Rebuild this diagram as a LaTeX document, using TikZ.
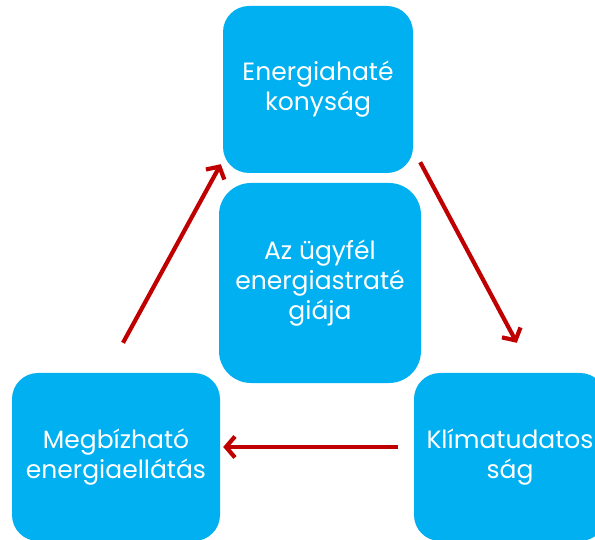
\documentclass[tikz,border=0pt]{standalone}
\usepackage{fontspec}
\setmainfont{Poppins}
\usetikzlibrary{arrows.meta}
\definecolor{boxblue}{RGB}{0,176,240}
\definecolor{arrowred}{RGB}{192,0,0}
\begin{document}
\begin{tikzpicture}[x=1pt, y=-1pt,
    box/.style={rectangle, fill=boxblue, rounded corners=26pt, align=center,
      text=white, font=\fontsize{25}{30}\selectfont},
    flow/.style={draw=arrowred, line width=4.2pt,
      -{Straight Barb[length=9pt,width=21pt,line width=4.2pt]}}]

      \useasboundingbox (0,0) rectangle (595,540);

      \node[box, minimum width=190pt, minimum height=167pt] (hatekony) at (318,89.5) {Energiahaté\\konyság};
      \node[box, minimum width=202pt, minimum height=200pt, rounded corners=32pt] (strategia) at (320,283) {Az ügyfél\\energiastraté\\giája};
      \node[box, minimum width=208pt, minimum height=168pt] (ellatas) at (116,457) {Megbízható\\energiaellátás};
      \node[box, minimum width=192pt, minimum height=168pt] (klima) at (510,457) {Klímatudatos\\ság};

      \coordinate (a1) at ([shift={(7,-30)}]ellatas.north);
      \coordinate (a2) at ([shift={(-2,-9)}]hatekony.south west);
      \coordinate (b1) at ([shift={(7,-11)}]hatekony.south east);
      \coordinate (b2) at ([shift={(103,-30)}]klima.north west);

      \draw[flow] (a1) -- (a2);
      \draw[flow] (b1) -- (b2);
      \draw[flow] ([shift={(-16,-10)}]klima.west) -- ([shift={(3,-10)}]ellatas.east);
    \end{tikzpicture}
\end{document}
